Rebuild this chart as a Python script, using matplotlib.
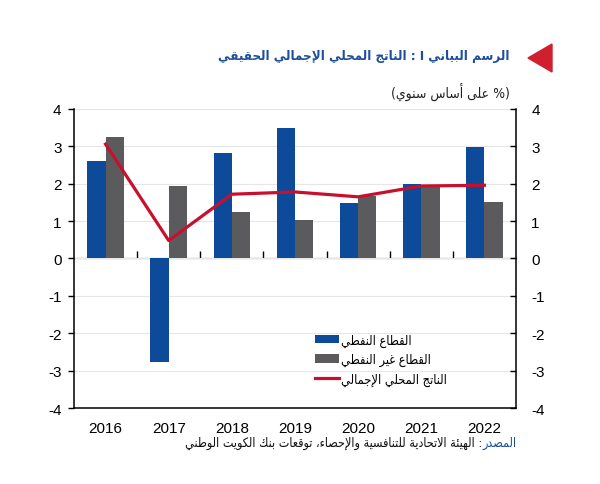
import matplotlib
matplotlib.use("Agg")
import matplotlib.pyplot as plt
import numpy as np
from matplotlib.patches import Polygon

years = ["2016", "2017", "2018", "2019", "2020", "2021", "2022"]
oil = [2.6, -2.77, 2.82, 3.48, 1.49, 1.99, 2.98]
non_oil = [3.25, 1.94, 1.25, 1.04, 1.68, 1.93, 1.50]
gdp = [3.06, 0.48, 1.72, 1.78, 1.65, 1.94, 1.96]

title_txt = "الرسم البياني I : الناتج المحلي الإجمالي الحقيقي"
subtitle_txt = "(% على أساس سنوي)"
leg_labels = ["القطاع النفطي", "القطاع غير النفطي", "الناتج المحلي الإجمالي"]
src_head = "المصدر"
src_body = ": الهيئة الاتحادية للتنافسية والإحصاء، توقعات بنك الكويت الوطني"

BLUE = "#0d4a9a"
GREY = "#5b5b5e"
RED = "#c8102e"
TITLE_BLUE = "#1d4f9c"

# --- minimal Arabic shaping (matplotlib has no bidi / joining) ---
DUAL = {"ئ": 0xFE89, "ب": 0xFE8F, "ت": 0xFE95, "ث": 0xFE99, "ج": 0xFE9D,
        "ح": 0xFEA1, "خ": 0xFEA5, "س": 0xFEB1, "ش": 0xFEB5, "ص": 0xFEB9,
        "ض": 0xFEBD, "ط": 0xFEC1, "ظ": 0xFEC5, "ع": 0xFEC9, "غ": 0xFECD,
        "ف": 0xFED1, "ق": 0xFED5, "ك": 0xFED9, "ل": 0xFEDD, "م": 0xFEE1,
        "ن": 0xFEE5, "ه": 0xFEE9, "ي": 0xFEF1}
RIGHT = {"آ": 0xFE81, "أ": 0xFE83, "ؤ": 0xFE85, "إ": 0xFE87, "ا": 0xFE8D,
         "ة": 0xFE93, "د": 0xFEA9, "ذ": 0xFEAB, "ر": 0xFEAD, "ز": 0xFEAF,
         "و": 0xFEED, "ى": 0xFEEF}
ISOL = {"ء": 0xFE80}
LAM_ALEF = {"آ": 0xFEF5, "أ": 0xFEF7, "إ": 0xFEF9, "ا": 0xFEFB}
MIRROR = {"(": ")", ")": "("}


def ar(s):
    toks = []
    i = 0
    while i < len(s):
        if s[i] == "ل" and i + 1 < len(s) and s[i + 1] in LAM_ALEF:
            toks.append(("LA", s[i + 1]))
            i += 2
        else:
            toks.append(("C", s[i]))
            i += 1

    def jt(t):
        if t[0] == "LA":
            return "R"
        c = t[1]
        if c in DUAL:
            return "D"
        if c in RIGHT:
            return "R"
        if c in ISOL:
            return "U"
        return None

    out = []
    for k, t in enumerate(toks):
        j = jt(t)
        c = t[1]
        if j is None:
            out.append(MIRROR.get(c, c))
            continue
        prv = jt(toks[k - 1]) if k > 0 else None
        nxt = jt(toks[k + 1]) if k + 1 < len(toks) else None
        cp = prv == "D" and j in ("D", "R")
        cn = j == "D" and nxt in ("D", "R")
        if t[0] == "LA":
            out.append(chr(LAM_ALEF[c] + (1 if cp else 0)))
        elif j == "U":
            out.append(chr(ISOL[c]))
        elif j == "R":
            out.append(chr(RIGHT[c] + (1 if cp else 0)))
        else:
            off = 3 if (cp and cn) else 1 if cp else 2 if cn else 0
            out.append(chr(DUAL[c] + off))
    return "".join(out)[::-1]


plt.rcParams["font.family"] = ["Liberation Sans", "DejaVu Sans"]
plt.rcParams["axes.unicode_minus"] = False
AR_FONT = ["DejaVu Sans"]

fig = plt.figure(figsize=(6.0, 4.85), dpi=100)
ax = fig.add_axes([0.1233, 0.1567, 0.7367, 0.6165])

x = np.arange(len(years))
w = 0.29
b1 = ax.bar(x - w / 2, oil, w, color=BLUE, zorder=2)
b2 = ax.bar(x + w / 2, non_oil, w, color=GREY, zorder=2)
ln, = ax.plot(x, gdp, color=RED, lw=2.3, zorder=3)

ax.set_xlim(-0.5, len(years) - 0.5)
ax.set_ylim(-4, 4)
ax.set_yticks(range(-4, 5))
ax.yaxis.grid(True, color="#e6e6e6", lw=0.8, zorder=0)
ax.set_axisbelow(True)

ax.set_xticks(x)
ax.set_xticklabels(years, fontsize=11)
ax.tick_params(axis="x", length=0, pad=9)
ax.tick_params(axis="y", direction="out", length=4, width=1, labelsize=11, pad=5)

for s in ["top", "right"]:
    ax.spines[s].set_visible(False)
for s in ["left", "bottom"]:
    ax.spines[s].set_linewidth(1.1)

axr = ax.twinx()
axr.set_ylim(-4, 4)
axr.set_yticks(range(-4, 5))
axr.tick_params(axis="y", direction="in", length=4, width=1, labelsize=11, pad=11)
for s in ["top", "left", "bottom"]:
    axr.spines[s].set_visible(False)
axr.spines["right"].set_linewidth(1.1)

# zero line with category separators
sec = ax.secondary_xaxis(0.5)
sec.set_xticks(x[:-1] + 0.5)
sec.set_xticklabels([])
sec.tick_params(axis="x", direction="out", length=5, width=1)
sec.spines["bottom"].set_linewidth(1.1)

ax.legend([b1, b2, ln], [ar(t) for t in leg_labels], loc="upper left",
          bbox_to_anchor=(0.53, 0.27), frameon=False,
          prop={"family": AR_FONT, "size": 9.2, "stretch": "condensed"},
          handlelength=1.9, handleheight=0.6, labelspacing=0.48,
          handletextpad=0.2, borderpad=0)

# title block
fig.text(0.85, 0.883, ar(title_txt), ha="right", va="center", fontsize=9.6,
         fontweight="bold", fontstretch="condensed", color=TITLE_BLUE,
         family=AR_FONT)
fig.text(0.85, 0.81, ar(subtitle_txt), ha="right", va="center", fontsize=10,
         fontstretch="condensed", color="#222222", family=AR_FONT)
tri = Polygon([[528 / 600, 1 - 59 / 485], [552 / 600, 1 - 45 / 485],
               [552 / 600, 1 - 73 / 485]], closed=True, color="#d0202f",
              transform=fig.transFigure)
fig.patches.append(tri)

# source line: blue head, black body to its left
src_y = 1 - 443 / 485
t1 = fig.text(0.861, src_y, ar(src_head), ha="right", va="center",
              fontsize=9, fontstretch="condensed", color=TITLE_BLUE,
              family=AR_FONT)
renderer = fig.canvas.get_renderer()
bb = t1.get_window_extent(renderer)
fig.text(bb.x0 / fig.bbox.width, src_y, ar(src_body), ha="right", va="center",
         fontsize=9, fontstretch="condensed", color="#111111", family=AR_FONT)

fig.savefig("out.png", dpi=100)
